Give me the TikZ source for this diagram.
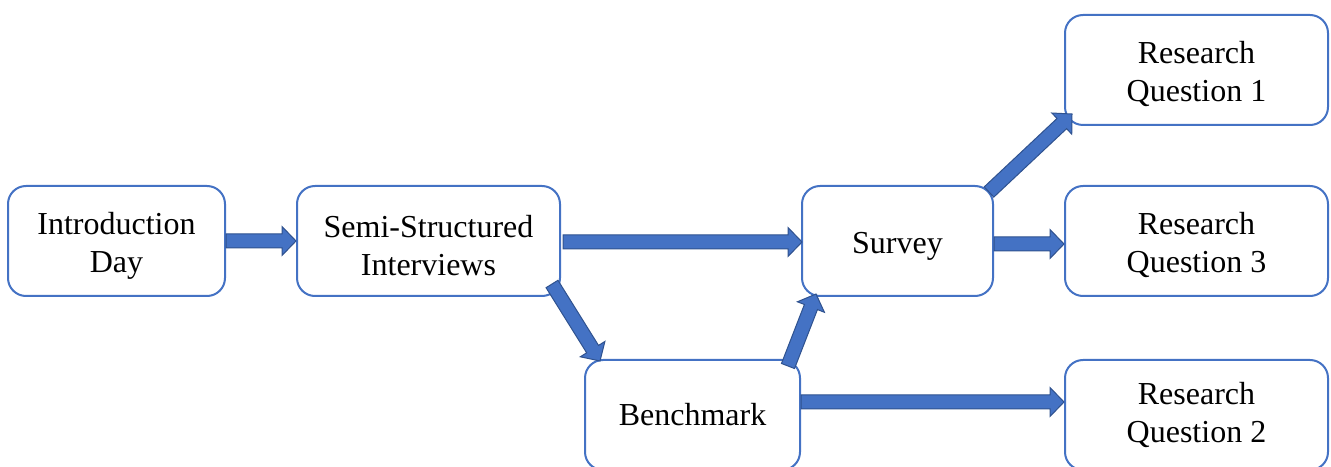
\documentclass[tikz,border=0pt]{standalone}
\usepackage{fontspec}
\setmainfont{Liberation Serif}
\usetikzlibrary{calc}
\definecolor{boxblue}{HTML}{4472C4}
\definecolor{arrowedge}{HTML}{2F528F}
% invisible strut that lowers the text a little inside its box
\newcommand\topstrut{\rule{0pt}{31pt}}
\tikzset{
  stagebox/.style={draw=boxblue, line width=2pt, rounded corners=18pt, fill=white,
    minimum height=110pt, align=center, inner sep=0pt,
    font=\fontsize{32}{38}\selectfont},
  blockarrow/.style={fill=boxblue, draw=arrowedge, line width=1pt, line join=miter}
}
% block arrow from #1 to #2: shaft half-width 7pt, head half-width 14.5pt, head length 14pt
\newcommand\blockarrow[2]{%
  \coordinate (ba-t) at (#1);
  \coordinate (ba-e) at (#2);
  \coordinate (ba-h) at ($(ba-e)!14pt!(ba-t)$);
  \draw[blockarrow]
    ($(ba-t)!7pt!90:(ba-e)$) -- ($(ba-h)!7pt!-90:(ba-t)$) --
    ($(ba-h)!14.5pt!-90:(ba-t)$) -- (ba-e) --
    ($(ba-h)!14.5pt!90:(ba-t)$) -- ($(ba-h)!7pt!90:(ba-t)$) --
    ($(ba-t)!7pt!-90:(ba-e)$) -- cycle;
}
\begin{document}
\begin{tikzpicture}[x=1pt, y=1pt]
\useasboundingbox (0,0) rectangle (1331,466);
\begin{scope}
\clip (0,0) rectangle (1331,466);
\node[stagebox, minimum width=217pt] (intro) at (116.5,225) {\topstrut Introduction\\Day};
\node[stagebox, minimum width=263pt] (semi) at (428.5,225) {\topstrut Semi-Structured\\Interviews};
\node[stagebox, minimum width=191pt] (survey) at (897.5,225) {\topstrut Survey};
\node[stagebox, minimum width=215pt] (bench) at (692.5,51) {Benchmark};
\node[stagebox, minimum width=263pt] (rq1) at (1196.5,396) {\topstrut Research\\Question 1};
\node[stagebox, minimum width=263pt] (rq3) at (1196.5,225) {\topstrut Research\\Question 3};
\node[stagebox, minimum width=263pt] (rq2) at (1196.5,51) {Research\\Question 2};

\blockarrow{intro.east}{semi.west}
\blockarrow{$(semi.east)+(2,-1)$}{$(survey.west)+(1,-1)$}
\blockarrow{$(semi.south east)+(-9,13)$}{$(bench.north west)+(16,-2)$}
\blockarrow{$(bench.north east)+(-13,-7)$}{$(survey.south west)+(15,3)$}
\blockarrow{$(survey.north east)+(-5,-7)$}{$(rq1.south west)+(8,12)$}
\blockarrow{$(survey.east)+(0,-3)$}{$(rq3.west)+(0,-3)$}
\blockarrow{$(bench.east)+(0,13)$}{$(rq2.west)+(0,13)$}
\end{scope}
\end{tikzpicture}
\end{document}
